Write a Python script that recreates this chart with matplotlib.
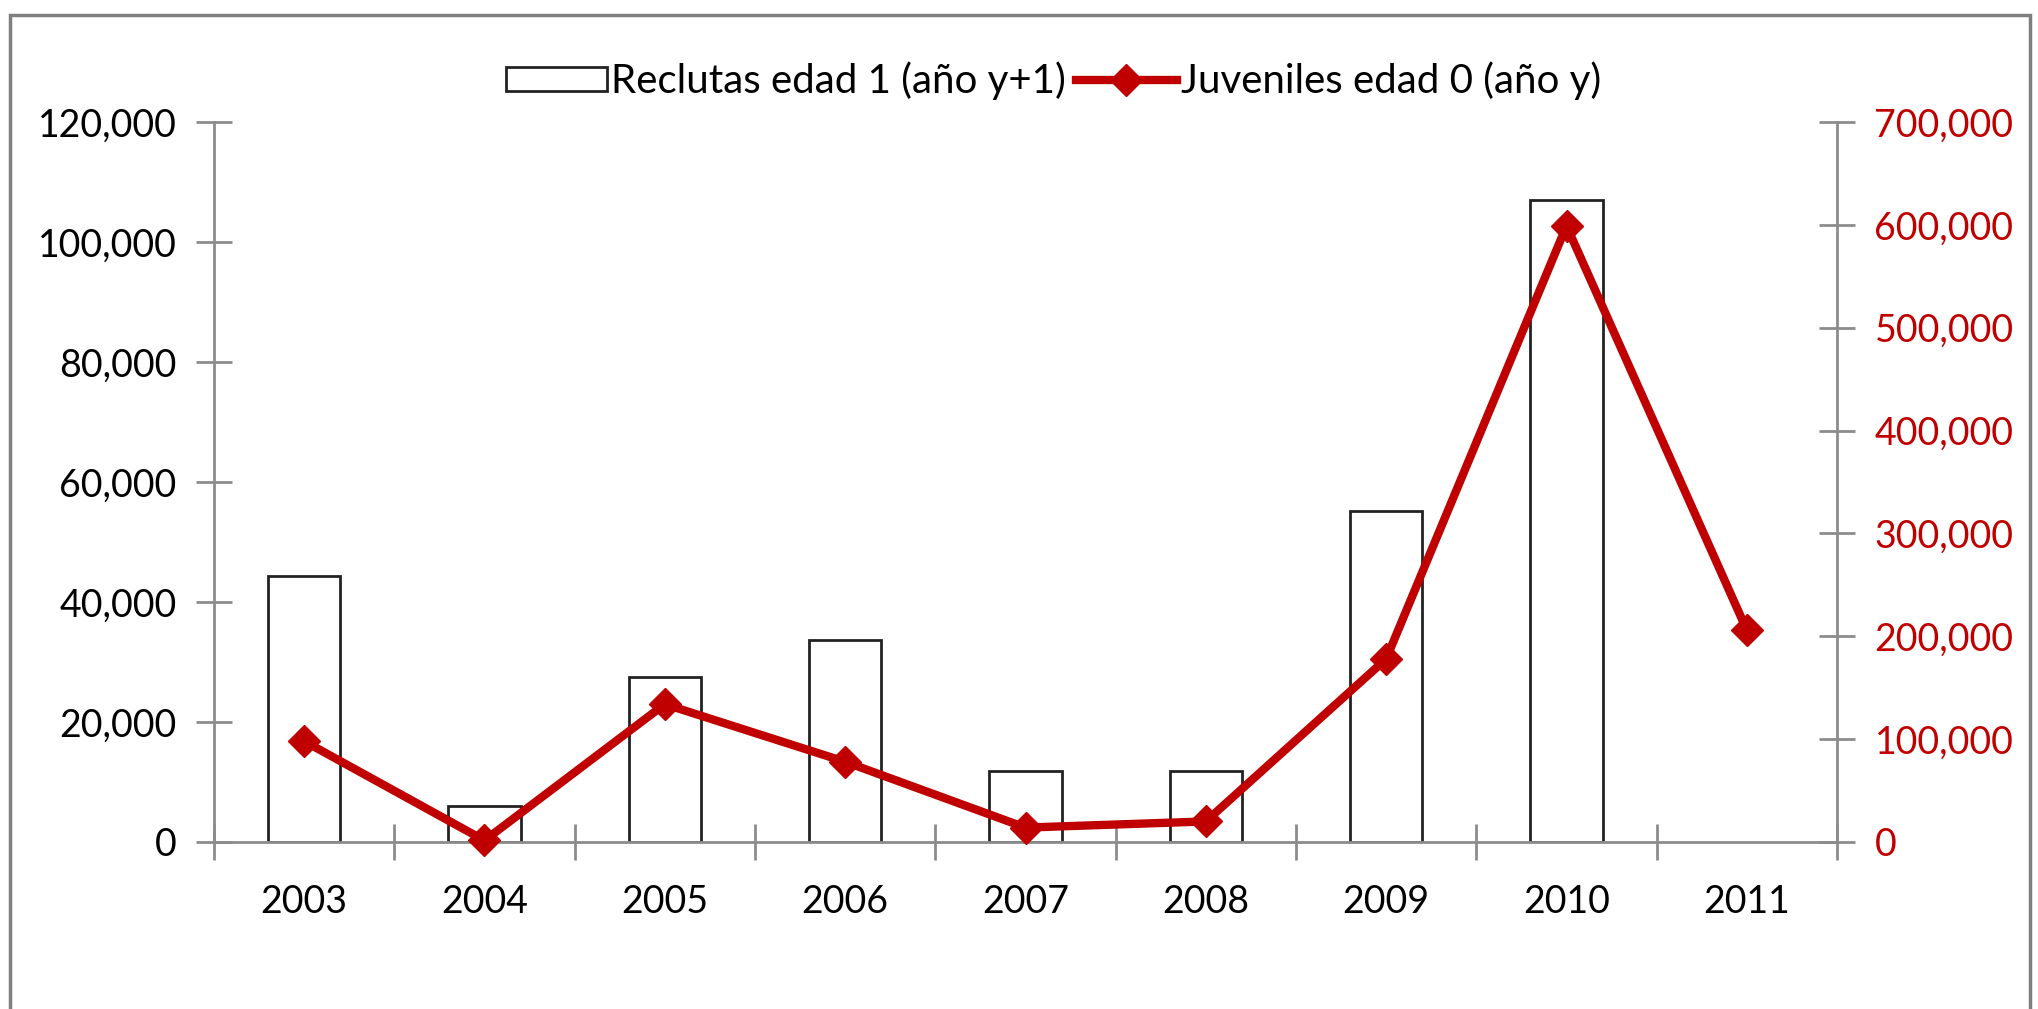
import matplotlib
matplotlib.use("Agg")
import matplotlib.pyplot as plt
from matplotlib.ticker import FuncFormatter, FixedLocator
from matplotlib.patches import Rectangle

years = ["2003", "2004", "2005", "2006", "2007", "2008", "2009", "2010", "2011"]
reclutas = [44400, 6000, 27500, 33600, 11900, 11900, 55200, 107000, None]
juveniles = [98000, 1500, 134000, 78000, 14000, 20000, 178000, 599000, 206000]

left_ticks = [0, 20000, 40000, 60000, 80000, 100000, 120000]
right_ticks = [0, 100000, 200000, 300000, 400000, 500000, 600000, 700000]

RED = "#C00000"
GRAY = "#8c8c8c"
FONT = "Lato"
FS = 27
LFS = 29

plt.rcParams['font.family'] = [FONT, 'DejaVu Sans']

fig = plt.figure(figsize=(20.38, 10.09), dpi=100)
fig.patch.set_facecolor("white")
fig.patches.append(Rectangle((10/2038, -0.05), (2030-10)/2038, 1.05 - 15/1009,
                             transform=fig.transFigure, fill=False,
                             edgecolor="#7f7f7f", linewidth=2.5))

ax = fig.add_axes([214/2038, 1 - 842/1009, (1837-214)/2038, (842-122)/1009])
ax2 = ax.twinx()

x = list(range(len(years)))
bx = [i for i, v in enumerate(reclutas) if v is not None]
bv = [v for v in reclutas if v is not None]
bars = ax.bar(bx, bv, width=0.4, facecolor="white", edgecolor="#222222",
              linewidth=2.0, label="Reclutas edad 1 (año y+1)", zorder=2)
line, = ax2.plot(x, juveniles, color=RED, linewidth=6, marker="D",
                 markersize=16, markerfacecolor=RED, markeredgecolor=RED,
                 label="Juveniles edad 0 (año y)", zorder=3, clip_on=False)

ax.set_xlim(-0.5, len(years) - 0.5)
ax.set_ylim(0, 120000)
ax2.set_ylim(0, 700000)

fmt = FuncFormatter(lambda v, p: f"{int(v):,}")
ax.yaxis.set_major_locator(FixedLocator(left_ticks))
ax2.yaxis.set_major_locator(FixedLocator(right_ticks))
ax.yaxis.set_major_formatter(fmt)
ax2.yaxis.set_major_formatter(fmt)

ax.set_xticks(x)
ax.set_xticklabels(years)
ax.set_xticks([i - 0.5 for i in range(len(years) + 1)], minor=True)
ax.tick_params(axis="x", which="major", length=0, pad=30, labelsize=FS, colors="black")
ax.tick_params(axis="x", which="minor", length=26, direction="inout", width=2, color=GRAY)
ax.tick_params(axis="y", which="major", length=26, direction="inout", width=2,
               color=GRAY, labelsize=FS, labelcolor="black", pad=14)
ax2.tick_params(axis="y", which="major", length=26, direction="inout", width=2,
                color=GRAY, labelsize=FS, labelcolor=RED, pad=14)

for a in (ax, ax2):
    a.spines["top"].set_visible(False)
    for s in ("left", "right", "bottom"):
        a.spines[s].set_color(GRAY)
        a.spines[s].set_linewidth(2)
    a.set_facecolor("none")
ax2.spines["left"].set_visible(False)
ax.spines["right"].set_visible(False)
ax2.spines["bottom"].set_visible(False)

leg = fig.legend(handles=[bars, line], loc="center", bbox_to_anchor=(0.517, 0.92),
                 ncol=2, frameon=False, fontsize=LFS, handlelength=2.5,
                 handleheight=0.55, handletextpad=0.1, columnspacing=0.25)

fig.savefig("out.png", dpi=100, facecolor="white")
